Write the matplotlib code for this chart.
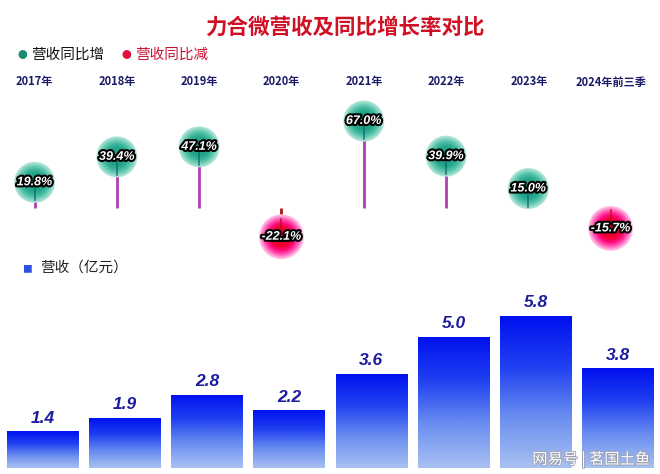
import numpy as np
import matplotlib
matplotlib.use('agg')
import matplotlib.pyplot as plt
import matplotlib.patheffects as pe
from matplotlib.colors import LinearSegmentedColormap, to_rgb

plt.rcParams['font.family'] = ['Noto Sans CJK SC', 'DejaVu Sans']

# data
years = ['2017年', '2018年', '2019年', '2020年', '2021年', '2022年', '2023年', '2024年前三季']
revenue = [1.4, 1.9, 2.8, 2.2, 3.6, 5.0, 5.8, 3.8]          # 亿元
growth = [19.8, 39.4, 47.1, -22.1, 67.0, 39.9, 15.0, -15.7]  # %

fig = plt.figure(figsize=(6.6, 4.74), dpi=100)
fig.patch.set_facecolor('white')

# ---- bars (bottom) ----
axb = fig.add_axes([0, 6/474, 1, 218/474])
x = np.arange(len(years))
bars = axb.bar(x, revenue, width=0.87, color='none', edgecolor='none')
axb.axis('off')

cmap = LinearSegmentedColormap.from_list('bl', ['#a9c1f2', '#6a8ef0', '#2040f0', '#0010f0'])
grad = np.linspace(0, 1, 256).reshape(-1, 1)
for b, v in zip(bars, revenue):
    x0, w = b.get_x(), b.get_width()
    im = axb.imshow(grad, cmap=cmap, origin='lower', aspect='auto',
                    extent=[x0, x0 + w, 0, v], zorder=2)
    im.set_clip_path(b)
    axb.text(x0 + w / 2, v + 0.22, f'{v:.1f}', ha='center', va='bottom',
             fontsize=12.5, fontweight='bold', style='italic', color='#1c1c9c',
             family=['Liberation Sans', 'DejaVu Sans'])
axb.set_xlim(-0.517, 7.51)
axb.set_ylim(0, 8.32)

# ---- lollipops (top) ----
axt = fig.add_axes([0, 214/474, 1, 165/474])
axt.set_xlim(-0.42, 7.6)
axt.set_ylim(-40, 87)
axt.axis('off')


def mix(c1, c2, t):
    a, b = np.array(to_rgb(c1)), np.array(to_rgb(c2))
    return tuple(a + (b - a) * t)


for i, g in enumerate(growth):
    stem_c = '#b040b4' if g > 0 else '#b01010'
    axt.plot([i, i], [0, g], color=stem_c, lw=2, zorder=1, solid_capstyle='butt')
    if g > 0:
        d_out, stops = 41, ['#b4e5d9', '#6ccdb6', '#3ab498', '#21a389']
    else:
        d_out, stops = 45, ['#ffc8e8', '#ff5cb6', '#ff0a80', '#f00030']
    n = 14
    for k in range(n):
        t = k / (n - 1)
        d = d_out * (1 - 0.55 * t)
        seg = min(int(t * (len(stops) - 1)), len(stops) - 2)
        tt = t * (len(stops) - 1) - seg
        c = mix(stops[seg], stops[seg + 1], tt)
        axt.scatter(i, g, s=(d * 0.72) ** 2, color=[c], edgecolors='none', zorder=3)
    if g > 0:
        axt.plot([i, i], [g - 4, g - 14], color='#16606a', lw=1.3, zorder=4, alpha=0.7)
    else:
        axt.plot([i, i], [g + 4, g + 14], color='#b01010', lw=1.3, zorder=4, alpha=0.7)
    axt.text(i, g, f'{g:.1f}%', ha='center', va='center', fontsize=9,
             fontweight='bold', style='italic', color='white', zorder=5,
             family=['Liberation Sans', 'DejaVu Sans'],
             path_effects=[pe.withStroke(linewidth=3, foreground='black')])

for i, y in enumerate(years):
    fig.text((34.5 + 82.4 * i) / 660, 1 - 82 / 474, y, ha='center', va='center',
             fontsize=8, fontweight='bold', color='#1a1a66')

# ---- title & legends ----
fig.text(345 / 660, 1 - 27 / 474, '力合微营收及同比增长率对比', ha='center', va='center',
         fontsize=15.5, fontweight='bold', color='#d01024')

fig.text(22 / 660, 1 - 55 / 474, '●', ha='center', va='center', fontsize=7, color='#1a8a70')
fig.text(31 / 660, 1 - 55 / 474, '营收同比增', ha='left', va='center', fontsize=10.5, color='#111111')
fig.text(126 / 660, 1 - 55 / 474, '●', ha='center', va='center', fontsize=7, color='#e0103a')
fig.text(135 / 660, 1 - 55 / 474, '营收同比减', ha='left', va='center', fontsize=10.5, color='#cc1133')

fig.text(27 / 660, 1 - 269 / 474, '■', ha='center', va='center', fontsize=7, color='#3050e0')
fig.text(40 / 660, 1 - 268 / 474, '营收（亿元）', ha='left', va='center', fontsize=10.5, color='#222222')

fig.text(650 / 660, 1 - 459 / 474, '网易号 | 茗国土鱼', ha='right', va='center', fontsize=11,
         color='white', path_effects=[pe.withStroke(linewidth=1.2, foreground='#9aa0b0')])

fig.savefig('out.png', dpi=100, facecolor='white')
